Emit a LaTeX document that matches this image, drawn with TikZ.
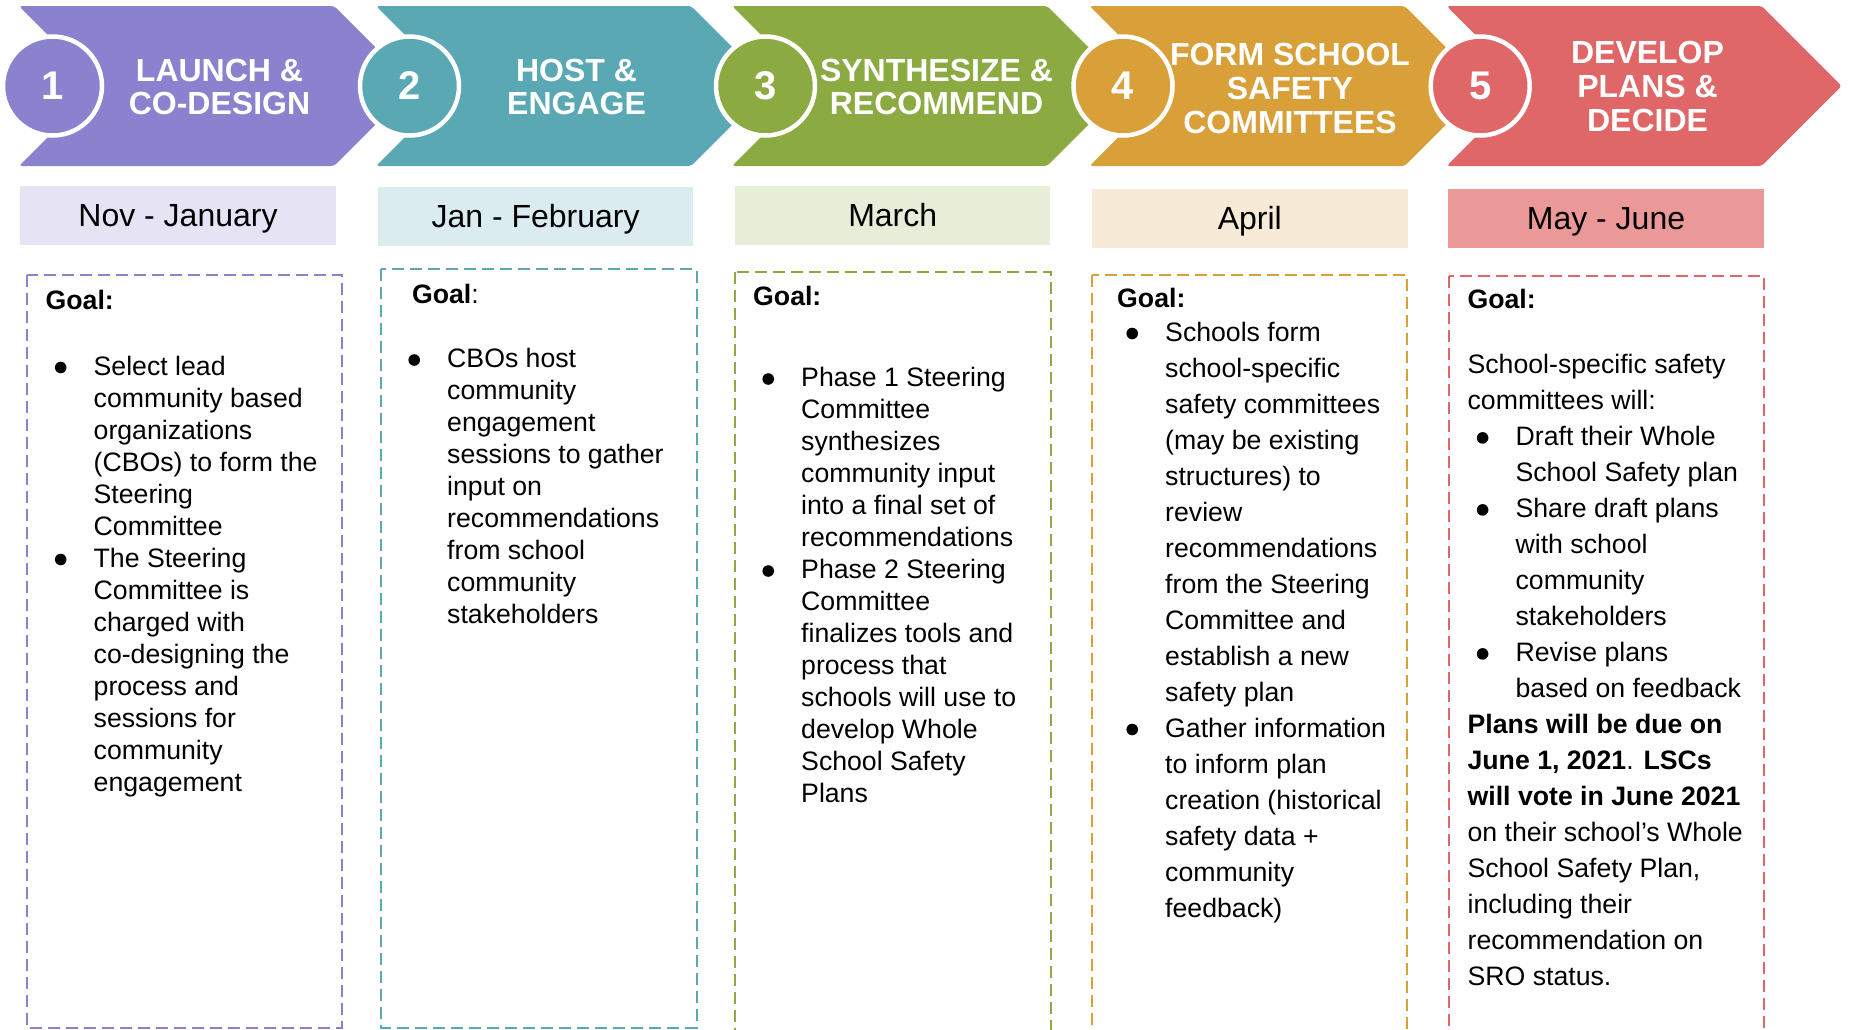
\documentclass[tikz,border=0pt]{standalone}
\usepackage{fontspec}
\setmainfont{Liberation Sans}

% stage colours: strong tone for arrows and frames, light tone for the month bars
\definecolor{cA}{HTML}{8A81CF}\definecolor{cAl}{HTML}{E6E3F5}
\definecolor{cB}{HTML}{5AA8B4}\definecolor{cBl}{HTML}{DAECEF}
\definecolor{cC}{HTML}{8CAA42}\definecolor{cCl}{HTML}{E6EED7}
\definecolor{cD}{HTML}{D99F38}\definecolor{cDl}{HTML}{F7EAD6}
\definecolor{cE}{HTML}{E06767}\definecolor{cEl}{HTML}{EA9898}

% list helpers: bullet dot, first line of an item, continuation line
\newlength\bulx \setlength\bulx{9.2pt}
\newlength\txtx \setlength\txtx{48pt}
\newcommand\bdot{\tikz[x=1pt,y=1pt,baseline=0pt]\fill[black] (5.8,7.5) circle (5.8);}
\newcommand\bi[1]{\makebox[0pt][l]{\hspace*{\bulx}\bdot}\hspace*{\txtx}#1}
\newcommand\ci[1]{\hspace*{\txtx}#1}
\newcommand\tightcol[1]{\parbox[t]{380pt}{\fontsize{26.67}{32}\selectfont #1}}
\newcommand\loosecol[1]{\parbox[t]{380pt}{\fontsize{26.67}{36}\selectfont #1}}

\begin{document}
\begin{tikzpicture}[x=1pt,y=-1pt,
  numcircle/.style={circle, draw=white, line width=4.5pt, minimum size=99pt,
    inner sep=0pt, text=white, font=\bfseries\fontsize{40}{40}\selectfont},
  stagetitle/.style={text=white, align=center, inner sep=0pt,
    font=\bfseries\fontsize{32}{33.8}\selectfont},
  monthbar/.style={rectangle, minimum width=315.5pt, minimum height=59pt,
    inner sep=0pt, text height=22.9pt, text depth=0pt,
    font=\fontsize{32}{38}\selectfont},
  goalframe/.style={line width=2pt, dash pattern=on 12pt off 6pt},
  bodytext/.style={anchor=base west, inner sep=0pt}]

\useasboundingbox (0,0) rectangle (1849,1029);
\clip (0,0) rectangle (1849,1029);
\fill[white] (0,0) rectangle (1849,1029);

% chevron arrows of the five stages
\foreach \L/\c in {19/cA, 376/cB, 732/cC, 1089.5/cD, 1446.7/cE}{
  \fill[\c, rounded corners=3pt] (\L,6) -- (\L+315,6) -- (\L+395,86)
    -- (\L+315,166) -- (\L,166) -- (\L+80,86) -- cycle;
}

% numbered discs
\node[numcircle, fill=cA] (n1) at (52.5,86) {1};
\node[numcircle, fill=cB] (n2) at (409.5,86) {2};
\node[numcircle, fill=cC] (n3) at (765.5,86) {3};
\node[numcircle, fill=cD] (n4) at (1123,86) {4};
\node[numcircle, fill=cE] (n5) at (1480.2,86) {5};

% stage titles
\node[stagetitle] (t1) at (219.5,87) {LAUNCH \&\\CO-DESIGN};
\node[stagetitle] (t2) at (576.5,87) {HOST \&\\ENGAGE};
\node[stagetitle] (t3) at (936.5,87) {SYNTHESIZE \&\\RECOMMEND};
\node[stagetitle] (t4) at (1290,88.5) {FORM SCHOOL\\SAFETY\\COMMITTEES};
\node[stagetitle] (t5) at (1647.5,86.5) {DEVELOP\\PLANS \&\\DECIDE};

% month bars
\node[monthbar, fill=cAl] (m1) at (178,215.5) {Nov - January};
\node[monthbar, fill=cBl] (m2) at (535.6,216.5) {Jan - February};
\node[monthbar, fill=cCl] (m3) at (892.7,215.5) {March};
\node[monthbar, fill=cDl] (m4) at (1249.8,218) {April};
\node[monthbar, fill=cEl] (m5) at (1606,218) {May - June};

% dashed goal frames
\draw[goalframe, cA] (26.7,275) rectangle (342,1027.5);
\draw[goalframe, cB] (381,269.3) rectangle (696.5,1027.5);
\draw[goalframe, cC] (735,272) rectangle (1051,1070);
\draw[goalframe, cD] (1091.5,274.5) rectangle (1406.5,1070);
\draw[goalframe, cE] (1448.6,275.5) rectangle (1764,1070);

% stage 1
\node[bodytext] (g1) at (45.5,309) {\tightcol{\textbf{Goal:}}};
\node[bodytext] (b1) at (45.5,375) {\tightcol{%
\bi{Select lead}\\
\ci{community based}\\
\ci{organizations}\\
\ci{(CBOs) to form the}\\
\ci{Steering}\\
\ci{Committee}\\
\bi{The Steering}\\
\ci{Committee is}\\
\ci{charged with}\\
\ci{co-designing the}\\
\ci{process and}\\
\ci{sessions for}\\
\ci{community}\\
\ci{engagement}}};

% stage 2
\node[bodytext] (g2) at (411.8,303) {\tightcol{\textbf{Goal}:}};
\node[bodytext] (b2) at (399,367.5) {\tightcol{%
\bi{CBOs host}\\
\ci{community}\\
\ci{engagement}\\
\ci{sessions to gather}\\
\ci{input on}\\
\ci{recommendations}\\
\ci{from school}\\
\ci{community}\\
\ci{stakeholders}}};

% stage 3
\node[bodytext] (g3) at (753,305) {\tightcol{\textbf{Goal:}}};
\node[bodytext] (b3) at (753,386.5) {\tightcol{%
\bi{Phase 1 Steering}\\
\ci{Committee}\\
\ci{synthesizes}\\
\ci{community input}\\
\ci{into a final set of}\\
\ci{recommendations}\\
\bi{Phase 2 Steering}\\
\ci{Committee}\\
\ci{finalizes tools and}\\
\ci{process that}\\
\ci{schools will use to}\\
\ci{develop Whole}\\
\ci{School Safety}\\
\ci{Plans}}};

% stage 4
\node[bodytext] (g4) at (1117,307) {\loosecol{\textbf{Goal:}}};
\node[bodytext] (b4) at (1117,341) {\loosecol{%
\bi{Schools form}\\
\ci{school-specific}\\
\ci{safety committees}\\
\ci{(may be existing}\\
\ci{structures) to}\\
\ci{review}\\
\ci{recommendations}\\
\ci{from the Steering}\\
\ci{Committee and}\\
\ci{establish a new}\\
\ci{safety plan}\\
\bi{Gather information}\\
\ci{to inform plan}\\
\ci{creation (historical}\\
\ci{safety data +}\\
\ci{community}\\
\ci{feedback)}}};

% stage 5
\node[bodytext] (g5) at (1467.4,308.5) {\loosecol{\textbf{Goal:}}};
\node[bodytext] (b5) at (1467.4,373.4) {\loosecol{%
School-specific safety\\
committees will:\\
\bi{Draft their Whole}\\
\ci{School Safety plan}\\
\bi{Share draft plans}\\
\ci{with school}\\
\ci{community}\\
\ci{stakeholders}\\
\bi{Revise plans}\\
\ci{based on feedback}\\
\textbf{Plans will be due on}\\
\textbf{June 1, 2021}. \textbf{LSCs}\\
\textbf{will vote in June 2021}\\
on their school’s Whole\\
School Safety Plan,\\
including their\\
recommendation on\\
SRO status.}};

\end{tikzpicture}
\end{document}
